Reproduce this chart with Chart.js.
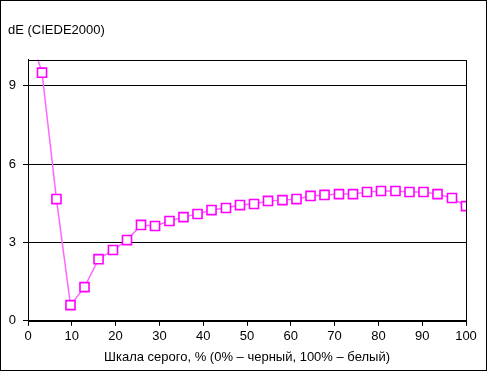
<!DOCTYPE html>
<html>
<head>
<meta charset="utf-8">
<script src="https://cdn.jsdelivr.net/npm/chart.js@4"></script>
<style>
  html, body { margin: 0; padding: 0; background: #fff; }
  #wrap { width: 487px; height: 371px; }
</style>
</head>
<body>
<div id="wrap"><canvas id="de-chart" width="487" height="371"></canvas></div>
<script>
// grey level, % (0 = black, 100 = white)
var greyLevels = [0, 3.2, 6.5, 9.7, 12.9, 16.1, 19.4, 22.6, 25.8, 29.0, 32.3, 35.5, 38.7, 41.9, 45.2, 48.4,
      51.6, 54.8, 58.1, 61.3, 64.5, 67.7, 71.0, 74.2, 77.4, 80.6, 83.9, 87.1, 90.3, 93.5, 96.8, 100]
// dE (CIEDE2000)
var deltaE = [11.2, 9.50, 4.66, 0.60, 1.29, 2.36, 2.71, 3.09, 3.67, 3.63, 3.82, 3.97, 4.09, 4.24, 4.32, 4.43,
      4.47, 4.59, 4.62, 4.66, 4.78, 4.82, 4.85, 4.85, 4.93, 4.97, 4.97, 4.93, 4.93, 4.85, 4.70, 4.39]
var yTicks = [0, 3, 6, 9]
var yTitle = "dE (CIEDE2000)"
var xTitle = "Шкала серого, % (0% – черный, 100% – белый)"

var points = []
for (var i = 0; i < greyLevels.length; i++) {
      points.push({ x: greyLevels[i], y: deltaE[i] })
}

// black frame round the plot area and round the whole picture
var frames = {
      id: 'frames',
      afterDraw: function(chart) {
            var ctx = chart.ctx, a = chart.chartArea
            ctx.save()
            ctx.strokeStyle = '#000'
            ctx.lineWidth = 1
            ctx.strokeRect(Math.round(a.left) + 0.5, Math.round(a.top) + 0.5,
                  Math.round(a.right - a.left), Math.round(a.bottom - a.top))
            ctx.strokeRect(0.5, 0.5, chart.width - 1, chart.height - 1)
            ctx.restore()
      }
}

Chart.defaults.font.family = '"Liberation Sans", Arial, sans-serif'
Chart.defaults.font.size = 13
Chart.defaults.color = '#000'

var ctx = document.getElementById('de-chart').getContext('2d')
var chart = new Chart(ctx, {
      type: 'line',
      data: {
            datasets: [{
                  data: points,
                  borderColor: '#ff66ff',
                  borderWidth: 1.5,
                  tension: 0,
                  pointStyle: 'rect',
                  pointRadius: 6.4,
                  pointBorderColor: '#ff00ff',
                  pointBackgroundColor: '#fff',
                  pointBorderWidth: 1.6
            }]
      },
      options: {
            responsive: false,
            animation: false,
            layout: { padding: { left: 8, right: 21, top: 0, bottom: 0 } },
            plugins: {
                  legend: { display: false },
                  tooltip: { enabled: false },
                  title: {
                        display: true,
                        text: yTitle,
                        align: 'start',
                        font: { size: 13, weight: 'normal' },
                        padding: { top: 23, bottom: 21 }
                  }
            },
            scales: {
                  x: {
                        type: 'linear',
                        min: 0,
                        max: 100,
                        ticks: { stepSize: 10, padding: 3, maxRotation: 0 },
                        grid: { drawOnChartArea: false, drawTicks: true, tickLength: 5, color: '#000' },
                        border: { color: '#000' },
                        title: { display: true, text: xTitle, padding: { top: 2, bottom: 6 } }
                  },
                  y: {
                        min: 0,
                        max: 10,
                        afterBuildTicks: function(scale) {
                              scale.ticks = yTicks.map(function(v) { return { value: v } })
                        },
                        afterFit: function(scale) { scale.width = 20 },
                        ticks: { padding: 7 },
                        grid: { color: '#000', tickLength: 5 },
                        border: { color: '#000' }
                  }
            }
      },
      plugins: [frames]
})
</script>
</body>
</html>
